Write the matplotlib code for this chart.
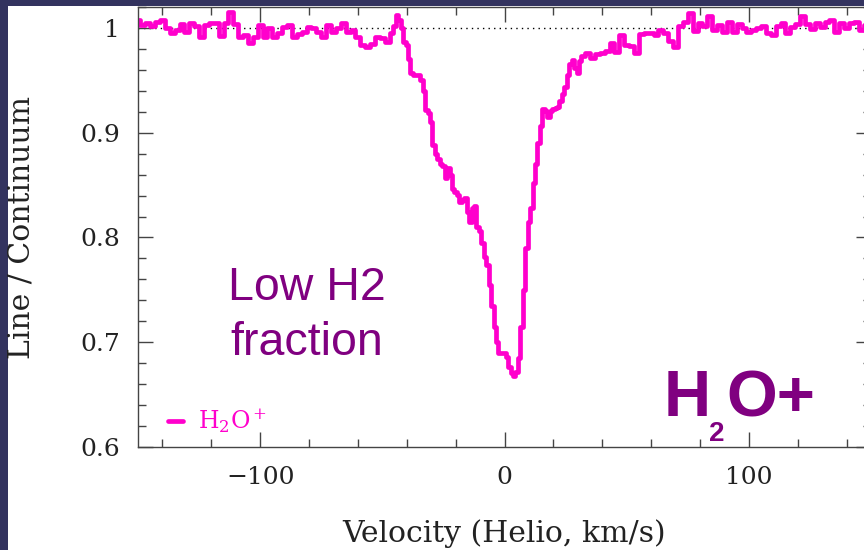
import matplotlib
matplotlib.use('Agg')
import matplotlib.pyplot as plt
from matplotlib.patches import Rectangle
from matplotlib.ticker import MultipleLocator

# spectrum (velocity in km/s, line / continuum)
velocity = [-150, -148, -146, -144, -142, -140, -138, -136, -134, -132,
            -130, -128, -126, -124, -122, -120, -118, -116, -114, -112,
            -110, -108, -106, -104, -102, -100, -98, -96, -94, -92,
            -90, -88, -86, -84, -82, -80, -78, -76, -74, -72,
            -70, -68, -66, -64, -62, -60, -58, -56, -54, -52,
            -50, -48, -46, -45, -44, -43, -42, -41, -40, -39,
            -38, -37, -36, -35, -34, -33, -32, -31, -30, -29,
            -28, -27, -26, -25, -24, -23, -22, -21, -20, -19,
            -18, -17, -16, -15, -14, -13, -12, -11, -10, -9,
            -8, -7, -6, -5, -4, -3, -2, -1, 0, 1,
            2, 3, 4, 5, 6, 7, 8, 9, 10, 11,
            12, 13, 14, 15, 16, 17, 18, 19, 20, 21,
            22, 23, 24, 25, 26, 27, 28, 29, 30, 31,
            32, 34, 36, 38, 40, 42, 44, 46, 48, 50,
            52, 54, 56, 58, 60, 62, 64, 66, 68, 70,
            72, 74, 76, 78, 80, 82, 84, 86, 88, 90,
            92, 94, 96, 98, 100, 102, 104, 106, 108, 110,
            112, 114, 116, 118, 120, 122, 124, 126, 128, 130,
            132, 134, 136, 138, 140, 142, 144, 146, 148, 150]
flux = [1.008, 1.003, 1.005, 1.002, 1.006, 1.008, 1.000, 0.995, 0.998, 1.004,
        0.996, 1.005, 1.002, 0.991, 1.003, 1.005, 1.005, 0.992, 1.005, 1.015,
        1.004, 0.991, 0.993, 0.986, 0.991, 1.003, 0.991, 1.000, 0.991, 0.995,
        1.001, 1.003, 0.991, 0.994, 0.996, 1.001, 1.000, 0.996, 0.991, 1.003,
        0.996, 1.000, 1.005, 0.996, 0.998, 0.991, 0.984, 0.982, 0.985, 0.991,
        0.990, 0.987, 0.995, 1.002, 1.012, 1.008, 1.000, 0.987, 0.984, 0.970,
        0.957, 0.955, 0.955, 0.955, 0.950, 0.940, 0.922, 0.919, 0.910, 0.888,
        0.880, 0.875, 0.870, 0.868, 0.857, 0.866, 0.860, 0.846, 0.843, 0.841,
        0.834, 0.836, 0.838, 0.824, 0.815, 0.828, 0.830, 0.810, 0.806, 0.795,
        0.781, 0.774, 0.755, 0.735, 0.715, 0.700, 0.690, 0.690, 0.690, 0.686,
        0.676, 0.671, 0.668, 0.672, 0.685, 0.715, 0.750, 0.790, 0.815, 0.828,
        0.852, 0.870, 0.890, 0.906, 0.923, 0.921, 0.915, 0.921, 0.923, 0.924,
        0.925, 0.930, 0.937, 0.944, 0.955, 0.966, 0.969, 0.962, 0.957, 0.968,
        0.973, 0.976, 0.971, 0.975, 0.976, 0.978, 0.986, 0.977, 0.993, 0.984,
        0.983, 0.976, 0.994, 0.995, 0.995, 0.993, 0.998, 0.995, 0.988, 0.982,
        1.002, 1.006, 1.014, 0.997, 1.005, 1.002, 1.011, 0.998, 1.003, 0.996,
        1.006, 0.996, 1.004, 1.000, 0.996, 0.998, 1.000, 1.002, 0.995, 0.993,
        1.002, 1.005, 0.995, 1.001, 1.004, 1.011, 1.004, 0.999, 1.005, 1.001,
        1.006, 1.008, 0.996, 1.005, 1.000, 1.005, 1.006, 0.998, 1.003, 1.003]

xticks = [-100, 0, 100]
yticks = [0.6, 0.7, 0.8, 0.9, 1.0]
ytick_labels = ['0.6', '0.7', '0.8', '0.9', '1']

magenta = '#ff00cc'
purple = '#800080'
navy = '#33335f'

plt.rcParams['font.family'] = ['DejaVu Serif']
plt.rcParams['mathtext.fontset'] = 'dejavuserif'

fig = plt.figure(figsize=(8.64, 5.5), dpi=100, facecolor=navy)
fig.patches.append(Rectangle((8 / 864, 0), 1, 1 - 6 / 550, transform=fig.transFigure,
                             facecolor='white', edgecolor='none', zorder=-1))
ax = fig.add_axes([138 / 864, 103 / 550, 733 / 864, 440 / 550])

ax.plot(velocity, flux, drawstyle='steps-mid', color=magenta, lw=3.4,
        solid_joinstyle='round', solid_capstyle='round', label=r'H$_2$O$^+$')
ax.axhline(1.0, color='black', lw=1.0, ls=(0, (1, 3)), zorder=1)

ax.set_xlim(-150, 150)
ax.set_ylim(0.6, 1.02)
ax.set_xticks(xticks)
ax.set_yticks(yticks, ytick_labels)
ax.xaxis.set_minor_locator(MultipleLocator(20))
ax.yaxis.set_minor_locator(MultipleLocator(0.02))
ax.tick_params(which='both', direction='in', top=True, right=True,
               color='#444444', width=1.0, labelsize=18, labelcolor='#222222')
ax.tick_params(which='major', length=11)
ax.tick_params(which='minor', length=6)
ax.tick_params(axis='x', pad=14)
ax.tick_params(axis='y', pad=13)
for s in ax.spines.values():
    s.set_color('#444444')
    s.set_linewidth(1.0)

ax.set_xlabel('Velocity (Helio, km/s)', fontsize=21.5, color='#222222')
ax.set_ylabel('Line / Continuum', fontsize=21.5, color='#222222')
ax.xaxis.set_label_coords(0.5, -0.165)
ax.yaxis.set_label_coords(-0.14, 0.5)

ax.legend(loc='lower left', bbox_to_anchor=(0.041, 0.028), frameon=False,
          handlelength=0.65, handletextpad=0.6, borderpad=0, borderaxespad=0,
          fontsize=17, labelcolor=magenta)

ax.text(-80.8, 0.740, 'Low H2', color=purple, fontsize=33.5, ha='center',
        va='baseline', family='Liberation Sans')
ax.text(-80.8, 0.6876, 'fraction', color=purple, fontsize=33.5, ha='center',
        va='baseline', family='Liberation Sans')
ax.text(65.0, 0.6295, 'H', color=purple, fontsize=47, fontweight='bold',
        va='baseline', family='Liberation Sans')
ax.text(83.8, 0.6060, '2', color=purple, fontsize=20, fontweight='bold',
        va='baseline', family='Liberation Sans')
ax.text(90.8, 0.6295, 'O+', color=purple, fontsize=47, fontweight='bold',
        va='baseline', family='Liberation Sans')

fig.savefig('out.png', dpi=100, facecolor=navy)
